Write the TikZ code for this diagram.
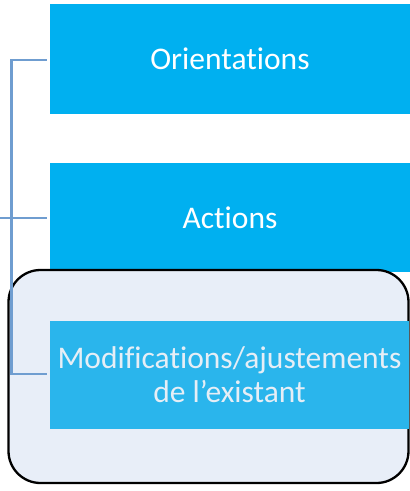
\documentclass[tikz,border=0pt]{standalone}
\usepackage{fontspec}
\setmainfont{Carlito}[Ligatures={NoCommon,NoRequired,NoContextual,NoDiscretionary}]
\definecolor{boxblue}{HTML}{00B0F0}
\definecolor{boxblueb}{HTML}{2AB5EC}
\definecolor{panel}{HTML}{E8EEF8}
\definecolor{connc}{HTML}{6F9DD0}
\definecolor{txtb}{HTML}{E6EEF6}
\newcommand{\nolig}{\kern0pt\relax}
\begin{document}
\begin{tikzpicture}[x=1pt,y=-1pt,
  bluebox/.style={fill=boxblue,draw=none,inner sep=0pt,minimum width=360pt,
    text=white,align=center,font=\fontsize{31.5}{34}\selectfont},
  conn/.style={draw=connc,line width=2.2pt},
  panelbox/.style={draw=black,line width=2.3pt,fill=panel,rounded corners=32pt,
    minimum width=400pt,minimum height=213pt,inner sep=0pt}]
\useasboundingbox (0,0) rectangle (410,491);
\node[bluebox,minimum height=110pt] (b1) at (230,59) {Orientat\nolig ions};
\node[bluebox,minimum height=109pt] (b2) at (230,217.5) {Act\nolig ions};
\node[panelbox] (pan) at (208.5,376.5) {};
\coordinate (t1) at (11.5,60);
\coordinate (t3) at (11.5,374);
\coordinate (t0) at (0,218);
\draw[conn,line cap=rect] (t1) -- (t3);
\draw[conn,shorten >=3pt] (t1) -- (t1 -| b1.west);
\draw[conn,shorten >=3pt] (t0) -- (t0 -| b2.west);
\node[bluebox,fill=boxblueb,text=txtb,minimum width=359pt,minimum height=108pt] (b3) at (229.5,375) {Modificat\nolig ions/ajustements\\de l’existant};
\draw[conn,shorten >=3pt] (t3) -- (t3 -| b3.west);
\end{tikzpicture}
\end{document}
